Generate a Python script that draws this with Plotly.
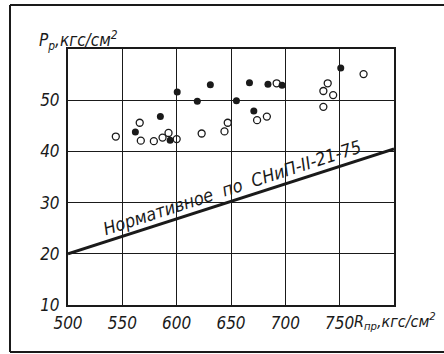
import plotly.graph_objects as go

# Data
filled_x = [562, 585, 594, 600.5, 619, 631, 655, 667, 671, 684, 697, 751]
filled_y = [43.8, 46.8, 42.2, 51.6, 49.8, 53.0, 49.9, 53.4, 47.9, 53.1, 52.9, 56.3]
open_x = [544, 566, 567, 579, 587, 592.5, 600, 623, 644, 647, 674, 683, 692, 735, 735, 739, 744, 772]
open_y = [42.9, 45.6, 42.1, 42.0, 42.7, 43.6, 42.4, 43.5, 43.9, 45.6, 46.1, 46.8, 53.3, 51.8, 48.7, 53.3, 51.0, 55.1]
norm_x = [500, 800]
norm_y = [20, 40.5]
x_ticks = [500, 550, 600, 650, 700, 750]
y_ticks = [10, 20, 30, 40, 50]

FONT = "DejaVu Sans Condensed, Liberation Sans Narrow, Liberation Sans, sans-serif"
INK = "#1a1a1a"

fig = go.Figure()
fig.add_trace(go.Scatter(x=norm_x, y=norm_y, mode="lines",
                         line=dict(color=INK, width=3), showlegend=False, cliponaxis=False))
fig.add_trace(go.Scatter(x=open_x, y=open_y, mode="markers",
                         marker=dict(symbol="circle-open", size=7, color=INK, line=dict(width=1.3)),
                         showlegend=False))
fig.add_trace(go.Scatter(x=filled_x, y=filled_y, mode="markers",
                         marker=dict(symbol="circle", size=7, color=INK),
                         showlegend=False))

axis_common = dict(showgrid=True, gridcolor=INK, gridwidth=1.2, showline=True, linecolor=INK,
                   linewidth=2, mirror=True, zeroline=False, ticks="",
                   tickfont=dict(family=FONT, size=17, color=INK))

fig.update_xaxes(range=[500, 800], tickvals=x_ticks, ticktext=[f"<i>{v}</i>" for v in x_ticks],
                 ticklabelstandoff=2, **axis_common)
fig.update_yaxes(range=[10, 60], tickvals=y_ticks, ticktext=[f"<i>{v}</i>" for v in y_ticks],
                 ticklabelstandoff=3, **axis_common)

fig.add_annotation(xref="paper", yref="paper", x=-0.095, y=1.035, xanchor="left", yanchor="middle",
                   text="<i>P<sub>р</sub>,кгс/см<sup>2</sup></i>", showarrow=False,
                   font=dict(family=FONT, size=17, color=INK))
fig.add_annotation(xref="paper", yref="paper", x=0.872, y=-0.066, xanchor="left", yanchor="middle",
                   text="<i>R<sub>пр</sub>,кгс/см<sup>2</sup></i>", showarrow=False,
                   font=dict(family=FONT, size=16, color=INK))
fig.add_annotation(x=651, y=33.0, text="<i>Нормативное  по  СНиП-II-21-75</i>",
                   showarrow=False, textangle=-18, xanchor="center", yanchor="middle",
                   font=dict(family=FONT, size=18, color=INK))

# Outer frame of the figure
fx0 = (10 - 68) / 326
fx1 = (446 - 68) / 326
fy0 = (305 - 5) / 256
fy1 = (305 - 352) / 256
fig.add_shape(type="line", xref="paper", yref="paper", x0=fx0, x1=fx0, y0=fy0, y1=fy1,
              line=dict(color=INK, width=2))
fig.add_shape(type="line", xref="paper", yref="paper", x0=fx0, x1=fx1, y0=fy0, y1=fy0,
              line=dict(color=INK, width=2))
fig.add_shape(type="line", xref="paper", yref="paper", x0=fx0, x1=fx1, y0=fy1, y1=fy1,
              line=dict(color=INK, width=2))

fig.update_layout(width=444, height=354, margin=dict(l=68, r=50, t=49, b=49),
                  plot_bgcolor="white", paper_bgcolor="white",
                  font=dict(family=FONT, color=INK))

fig.write_html("out.html", config={"displayModeBar": False},
               post_script="document.body.style.margin='0';document.body.style.overflow='hidden';"
                           "document.documentElement.style.overflow='hidden';")
